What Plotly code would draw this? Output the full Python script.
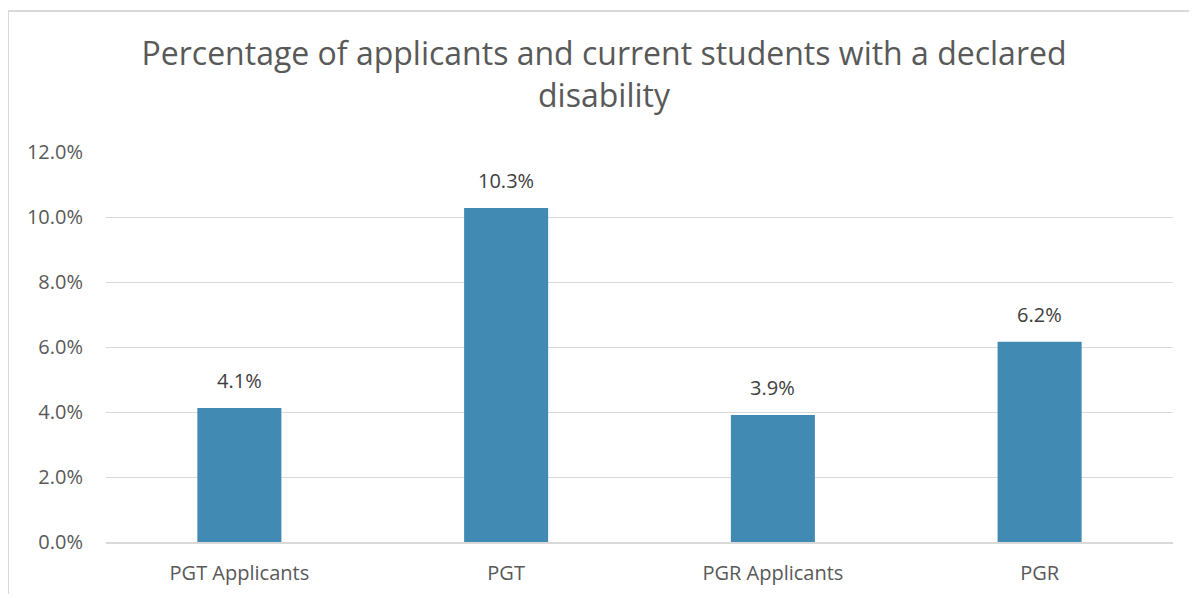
import plotly.graph_objects as go

categories = ["PGT Applicants", "PGT", "PGR Applicants", "PGR"]
values = [0.0412, 0.1028, 0.0391, 0.0616]
tick_vals = [0, 0.02, 0.04, 0.06, 0.08, 0.10, 0.12]

OFF = 8  # page body margin
W, H = 1197 - OFF, 598 - OFF
L, R, T, B = 106 - OFF, 24, 152 - OFF, 56 - OFF
pw, ph = W - L - R, H - T - B

fig = go.Figure(go.Bar(
    x=categories, y=values,
    marker=dict(color="#418AB3", line=dict(width=0)),
    hoverinfo="x+y",
))

annotations = [
    dict(x=c, y=v, xref="x", yref="y", text=f"{v*100:.1f}%", showarrow=False,
         yanchor="bottom", yshift=12,
         font=dict(size=20, color="#404040", family="Open Sans"))
    for c, v in zip(categories, values)
]

bx = (8 - OFF - L) / pw
by = (H - B - (8 - OFF)) / ph

fig.update_layout(
    width=W, height=H,
    margin=dict(l=L, r=R, t=T, b=B),
    paper_bgcolor="white", plot_bgcolor="white",
    bargap=0.685,
    showlegend=False,
    font=dict(family="Open Sans", color="#595959"),
    title=dict(
        text="Percentage of applicants and current students with a declared<br>disability",
        x=(604 - OFF) / W, xanchor="center", xref="container",
        y=1 - (65 - OFF) / H, yanchor="middle", yref="container",
        font=dict(size=32, color="#595959", family="Open Sans"),
    ),
    annotations=annotations,
    shapes=[
        dict(type="line", xref="paper", yref="paper",
             x0=bx, x1=bx, y0=by, y1=-(B + 5) / ph,
             line=dict(color="#d9d9d9", width=2)),
        dict(type="line", xref="paper", yref="paper",
             x0=bx, x1=(W - L + 5) / pw, y0=by, y1=by,
             line=dict(color="#d9d9d9", width=2)),
    ],
)

fig.update_yaxes(
    range=[0, 0.12], tickvals=tick_vals, tickformat=".1%",
    showgrid=True, gridcolor="#d9d9d9", gridwidth=1,
    zeroline=False, showline=False,
    tickfont=dict(size=20, color="#595959"),
    ticklabelstandoff=22,
)
fig.update_xaxes(
    showline=True, linecolor="#d9d9d9", linewidth=2,
    tickfont=dict(size=20, color="#595959"),
    ticks="", ticklabelstandoff=12,
)

fig.write_html("out.html")
